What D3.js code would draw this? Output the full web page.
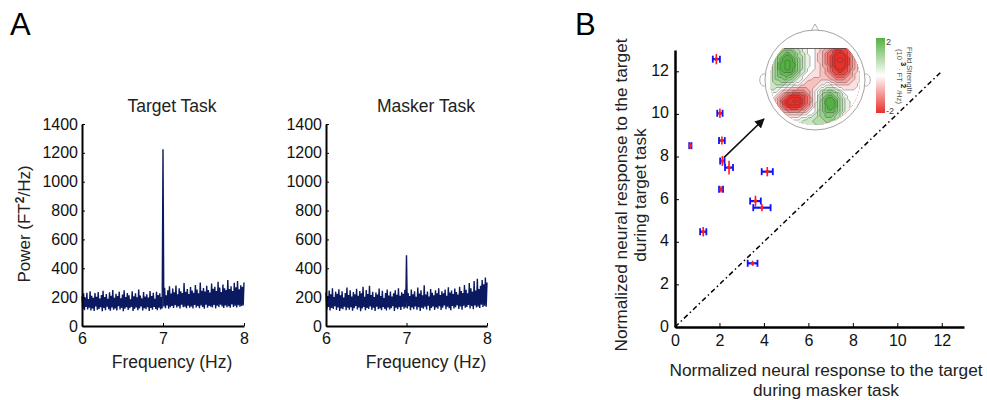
<!DOCTYPE html>
<html>
<head>
<meta charset="utf-8">
<script src="https://cdn.jsdelivr.net/npm/d3@7"></script>
<style>
body{margin:0;background:#fff}
text{font-family:"Liberation Sans",Arial,Helvetica,sans-serif;fill:#222}
</style>
</head>
<body>
<svg id="fig" width="987" height="400"></svg>
<script>
// spectra, 6..8 Hz in 0.01 Hz steps (FT^2/Hz)
const freqStart = 6, freqStep = 0.01;
const targetPower = [
  205,118,226,110,198,132,231,114,187,127,240,108,210,122,195,105,228,136,203,112,
  236,118,190,130,215,102,244,125,201,109,222,134,188,117,233,106,209,128,250,113,
  196,122,224,108,207,137,238,115,192,126,218,103,247,120,200,131,229,111,213,124,
  185,133,241,105,206,119,226,129,199,110,252,121,211,135,191,107,235,123,204,116,
  220,130,197,104,243,125,208,113,231,132,189,118,238,109,214,127,226,114,201,122,
  1225,
  135,265,123,212,142,248,120,276,131,225,139,259,125,234,144,281,128,219,137,262,
  121,241,147,228,130,297,134,237,123,256,141,222,127,270,136,246,122,231,145,284,
  129,252,138,227,124,301,142,244,132,263,120,239,148,278,126,250,139,232,133,295,
  128,258,145,271,122,242,141,307,131,266,147,236,135,288,125,261,143,249,130,318,
  137,257,126,276,149,243,132,299,140,268,128,312,144,254,133,283,138,271,142,302
];
const maskerPower = [
  232,114,208,132,245,108,219,125,262,119,201,137,238,111,224,128,255,104,212,122,
  241,117,198,134,229,109,266,126,214,113,247,131,205,106,236,123,219,138,258,115,
  210,129,243,103,226,121,271,132,203,110,250,125,222,118,278,136,215,112,237,127,
  200,105,232,133,218,116,259,122,207,109,244,130,193,119,228,107,253,128,211,114,
  239,123,204,137,226,104,248,126,216,117,261,131,209,111,234,134,223,120,251,129,
  490,
  122,228,138,207,110,252,128,219,117,241,135,203,113,266,131,225,104,247,126,213,
  119,283,133,218,114,239,140,205,108,257,125,230,136,212,112,248,129,226,120,262,
  137,214,111,240,127,227,142,253,116,209,134,268,123,232,109,245,139,221,121,259,
  130,236,144,218,118,271,135,242,113,229,141,284,126,251,132,226,146,297,122,262,
  138,238,117,311,143,245,129,328,135,257,125,279,148,318,131,290,140,336,133,302
];
const powerTicks = [0,200,400,600,800,1000,1200,1400];
const freqTicks = [6,7,8];

// panel B: per-subject responses (masker task x, target task y) with error bars
const maskerResp = [1.86, 2.02, 0.69, 2.11, 2.13, 2.43, 4.15, 2.07, 3.62, 3.91, 1.27, 3.49];
const targetResp = [12.57,10.03, 8.51, 8.75, 7.79, 7.48, 7.29, 6.46, 5.91, 5.60, 4.47, 2.99];
const maskerErr  = [0.16, 0.12, 0.05, 0.13, 0.10, 0.18, 0.25, 0.09, 0.24, 0.39, 0.14, 0.22];
const targetErr  = [0.17, 0.15, 0.06, 0.12, 0.16, 0.25, 0.15, 0.08, 0.18, 0.10, 0.15, 0.05];
const respTicks = [0,2,4,6,8,10,12];
const unityLine = [0, 12];
const arrowFrom = [2.2, 7.95], arrowTo = [4.0, 9.76];

// topography sources (head coords, -1..1): x, y, amplitude, spread x, spread y
const srcX   = [-0.55, 0.50, -0.42, 0.30, -0.05, 0.00, -0.85, 0.15];
const srcY   = [-0.30, -0.38, 0.42, 0.45, 0.85, 0.05, 0.15, -0.45];
const srcAmp = [2.4, -2.6, -2.7, 2.3, 0.7, -0.6, 0.5, -0.4];
const srcSx  = [0.20, 0.19, 0.24, 0.17, 0.30, 0.30, 0.15, 0.12];
const srcSy  = [0.28, 0.30, 0.17, 0.24, 0.14, 0.14, 0.22, 0.15];
const colorTicks = [2, -2];

const svg = d3.select("#fig");
const navy = "#0b1a60";
const green = "#55b043", red = "#e8302b";
const fmt = d3.format("d");

// panel letters
svg.append("text").attr("x", 10).attr("y", 35).style("font-size", "31px").style("fill", "#000").text("A");
svg.append("text").attr("x", 575).attr("y", 35).style("font-size", "31px").style("fill", "#000").text("B");

/**
 * one spectrum panel
 */
function spectrum(values, x0, x1, title, titleX, showYLabel){
    let x = d3.scaleLinear().domain([6, 8]).range([x0, x1]);
    let y = d3.scaleLinear().domain([0, 1400]).range([326, 124]);
    let g = svg.append("g");

    let pts = values.map((v, i) => [freqStart + i*freqStep, v]);
    g.append("path")
        .attr("d", d3.line().x(d => x(d[0])).y(d => y(d[1]))(pts))
        .attr("fill", "none").attr("stroke", navy).attr("stroke-width", 1.4);

    let ya = g.append("g").attr("transform", "translate(" + x0 + ",0)")
        .call(d3.axisLeft(y).tickValues(powerTicks).tickSize(-3).tickSizeOuter(0).tickPadding(4).tickFormat(fmt));
    let xa = g.append("g").attr("transform", "translate(0,326)")
        .call(d3.axisBottom(x).tickValues(freqTicks).tickSize(-3).tickSizeOuter(0).tickPadding(7).tickFormat(fmt));
    for (let a of [ya, xa]){
        a.select(".domain").attr("stroke", "#000").attr("stroke-width", 2);
        a.selectAll(".tick line").attr("stroke", "#000");
        a.selectAll(".tick text").style("font-size", "16px").style("fill", "#111");
    }

    g.append("text").attr("x", titleX).attr("y", 112).attr("text-anchor", "middle")
        .style("font-size", "17.5px").text(title);
    g.append("text").attr("x", titleX).attr("y", 368).attr("text-anchor", "middle")
        .style("font-size", "17.5px").text("Frequency (Hz)");

    if (showYLabel){
        let t = g.append("text").attr("transform", "translate(30,224) rotate(-90)")
            .attr("text-anchor", "middle").style("font-size", "17px");
        t.append("tspan").text("Power (FT");
        t.append("tspan").attr("dy", -6).style("font-size", "12px").style("font-weight", "bold").text("2");
        t.append("tspan").attr("dy", 6).text("/Hz)");
    }
}

spectrum(targetPower, 82, 244, "Target Task", 172, true);
spectrum(maskerPower, 326, 487, "Masker Task", 426, false);

// ---------- panel B ----------
let xB = d3.scaleLinear().domain([0, 13]).range([675, 964]);
let yB = d3.scaleLinear().domain([0, 13]).range([327, 50]);
let gB = svg.append("g");

gB.append("line")
    .attr("x1", xB(unityLine[0])).attr("y1", yB(unityLine[0]))
    .attr("x2", xB(unityLine[1])).attr("y2", yB(unityLine[1]))
    .attr("stroke", "#000").attr("stroke-width", 1.5).attr("stroke-dasharray", "5,3,1.5,3");

let yaB = gB.append("g").attr("transform", "translate(675,0)")
    .call(d3.axisLeft(yB).tickValues(respTicks).tickSize(-4).tickSizeOuter(0).tickPadding(6));
let xaB = gB.append("g").attr("transform", "translate(0,327)")
    .call(d3.axisBottom(xB).tickValues(respTicks).tickSize(-4).tickSizeOuter(0).tickPadding(5));
for (let a of [yaB, xaB]){
    a.select(".domain").attr("stroke", "#000").attr("stroke-width", 2.5);
    a.selectAll(".tick line").attr("stroke", "#000");
    a.selectAll(".tick text").style("font-size", "16px").style("fill", "#111");
}
xaB.selectAll(".tick text").attr("dy", "0.85em");
yaB.selectAll(".tick text").attr("dy", "0.25em");

// arrow
let defs = svg.append("defs");
defs.append("marker").attr("id", "head").attr("viewBox", "0 0 10 10")
    .attr("refX", 9).attr("refY", 5).attr("markerWidth", 6).attr("markerHeight", 6)
    .attr("orient", "auto")
    .append("path").attr("d", "M0,0L10,5L0,10z").attr("fill", "#111");
gB.append("line")
    .attr("x1", xB(arrowFrom[0])).attr("y1", yB(arrowFrom[1]))
    .attr("x2", xB(arrowTo[0])).attr("y2", yB(arrowTo[1]))
    .attr("stroke", "#111").attr("stroke-width", 1.6).attr("marker-end", "url(#head)");

// error bars
let pts = maskerResp.map((m, i) => ({x: m, y: targetResp[i], ex: maskerErr[i], ey: targetErr[i]}));
let mk = gB.selectAll(".pt").data(pts).join("g").attr("class", "pt");
mk.append("line").attr("x1", d => xB(d.x - d.ex)).attr("x2", d => xB(d.x + d.ex))
    .attr("y1", d => yB(d.y)).attr("y2", d => yB(d.y)).attr("stroke", "#1010ff").attr("stroke-width", 2.2);
mk.append("line").attr("x1", d => xB(d.x - d.ex)).attr("x2", d => xB(d.x - d.ex))
    .attr("y1", d => yB(d.y) - 3.5).attr("y2", d => yB(d.y) + 3.5).attr("stroke", "#1010ff").attr("stroke-width", 1.8);
mk.append("line").attr("x1", d => xB(d.x + d.ex)).attr("x2", d => xB(d.x + d.ex))
    .attr("y1", d => yB(d.y) - 3.5).attr("y2", d => yB(d.y) + 3.5).attr("stroke", "#1010ff").attr("stroke-width", 1.8);
mk.append("line").attr("x1", d => xB(d.x)).attr("x2", d => xB(d.x))
    .attr("y1", d => yB(d.y - d.ey) + 1.5).attr("y2", d => yB(d.y + d.ey) - 1.5).attr("stroke", "#ff1a1a").attr("stroke-width", 1.6);
mk.append("circle").attr("cx", d => xB(d.x)).attr("cy", d => yB(d.y)).attr("r", 1.8).attr("fill", "#ff1a1a");

// axis titles
let yt = gB.append("text").attr("transform", "translate(627,195) rotate(-90)")
    .attr("text-anchor", "middle").style("font-size", "17.3px");
yt.append("tspan").attr("x", 0).attr("dy", 0).text("Normalized neural response to the target");
yt.append("tspan").attr("x", 0).attr("dy", 19).text("during target task");
let xt = gB.append("text").attr("x", 826).attr("y", 376)
    .attr("text-anchor", "middle").style("font-size", "17.3px");
xt.append("tspan").attr("x", 826).text("Normalized neural response to the target");
xt.append("tspan").attr("x", 826).attr("dy", 20).text("during masker task");

// ---------- topography inset ----------
const cx = 815, cy = 80, R = 50, mapR = 45, cutY = 48.5;
let topo = svg.append("g");
topo.append("path").attr("d", `M${cx-4},${cy-R+1}L${cx},${cy-R-6}L${cx+4},${cy-R+1}`)
    .attr("fill", "#fff").attr("stroke", "#999").attr("stroke-width", 0.8);
for (let s of [-1, 1]){
    topo.append("path")
        .attr("d", `M${cx+s*R},${cy-6}C${cx+s*(R+7)},${cy-7} ${cx+s*(R+7)},${cy+7} ${cx+s*R},${cy+6}`)
        .attr("fill", "#fff").attr("stroke", "#999").attr("stroke-width", 0.8);
}
topo.append("circle").attr("cx", cx).attr("cy", cy).attr("r", R)
    .attr("fill", "#fff").attr("stroke", "#999").attr("stroke-width", 0.9);

defs.append("clipPath").attr("id", "headClip").append("circle").attr("cx", cx).attr("cy", cy).attr("r", mapR);
defs.append("clipPath").attr("id", "cutClip").append("rect")
    .attr("x", cx - R).attr("y", cutY).attr("width", 2*R).attr("height", 2*R);

let n = 40;
let field = new Array(n*n);
for (let j = 0; j < n; j++){
    for (let i = 0; i < n; i++){
        let u = -1 + 2*(i + 0.5)/n, v = -1 + 2*(j + 0.5)/n, s = 0;
        for (let k = 0; k < srcX.length; k++){
            let dx = (u - srcX[k])/srcSx[k], dy = (v - srcY[k])/srcSy[k];
            s += srcAmp[k]*Math.exp(-0.5*(dx*dx + dy*dy));
        }
        field[j*n + i] = s;
    }
}
const stepC = 0.3;
let thresholds = d3.range(-2.85, 2.9, stepC);
let fieldColor = d3.scaleLinear().domain([-2, 0, 2]).range([red, "#ffffff", green]).clamp(true);
let bands = d3.contours().size([n, n]).smooth(false).thresholds(thresholds)(field);
let proj = d3.geoIdentity().scale(2*R/n).translate([cx - R, cy - R]);
let gMap = topo.append("g").attr("clip-path", "url(#headClip)")
    .append("g").attr("clip-path", "url(#cutClip)");
gMap.selectAll("path").data(bands).join("path")
    .attr("d", d3.geoPath(proj))
    .attr("fill", d => fieldColor(d.value + stepC/2))
    .attr("stroke", "#333").attr("stroke-width", 0.45).attr("stroke-opacity", 0.8);
topo.append("line").attr("x1", cx - 31).attr("x2", cx + 31).attr("y1", cutY).attr("y2", cutY)
    .attr("stroke", "#444").attr("stroke-width", 0.8);

// colorbar
let grad = defs.append("linearGradient").attr("id", "cbar").attr("x1", 0).attr("y1", 0).attr("x2", 0).attr("y2", 1);
grad.append("stop").attr("offset", "0%").attr("stop-color", green);
grad.append("stop").attr("offset", "50%").attr("stop-color", "#ffffff");
grad.append("stop").attr("offset", "100%").attr("stop-color", red);
let cb = d3.scaleLinear().domain([2, -2]).range([41, 110]);
topo.append("rect").attr("x", 876).attr("y", 38).attr("width", 9).attr("height", 75).attr("fill", "url(#cbar)");
topo.selectAll(".cbt").data(colorTicks).join("text").attr("class", "cbt")
    .attr("x", 886).attr("y", d => cb(d) + 3.5).style("font-size", "9px").style("fill", "#444")
    .text(d => d);
topo.append("text").attr("transform", "translate(907,47) rotate(90)")
    .style("font-size", "7.5px").style("fill", "#555").text("Field Strength");
let ct = topo.append("text").attr("transform", "translate(897,49) rotate(90)")
    .style("font-size", "7.5px").style("fill", "#555");
ct.append("tspan").text("(10 ");
ct.append("tspan").attr("dy", -4).style("font-weight", "bold").style("fill", "#111").text("3");
ct.append("tspan").attr("dy", 4).text(" \u00b7 FT ");
ct.append("tspan").attr("dy", -4).style("font-weight", "bold").style("fill", "#111").text("2");
ct.append("tspan").attr("dy", 4).text(" /Hz)");
</script>
</body>
</html>
